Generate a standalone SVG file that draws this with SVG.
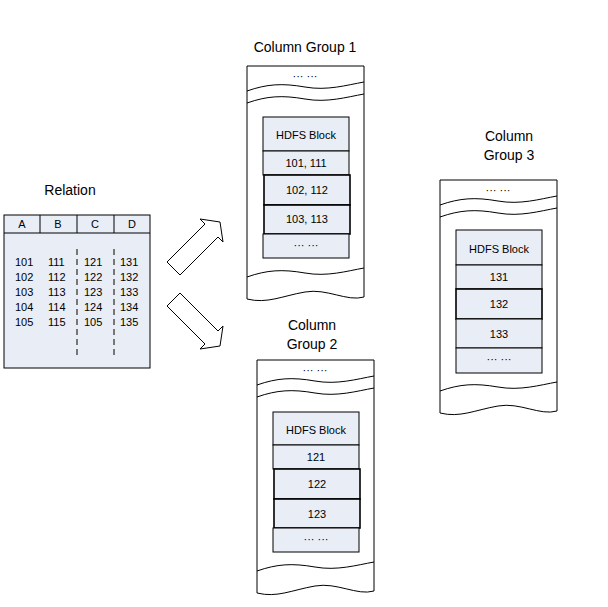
<svg xmlns="http://www.w3.org/2000/svg" width="608" height="607" viewBox="0 0 608 607">
<style>
text{font-family:"Liberation Sans",Arial,sans-serif;fill:#000}
.t{font-size:14px;text-anchor:middle}
.s{font-size:11px;text-anchor:middle}
.n{font-size:11px}
.o{fill:#fff;stroke:#000;stroke-width:1}
.w{fill:none;stroke:#000;stroke-width:1}
.b{fill:#e8edf6;stroke:#000;stroke-width:1}
.bb{fill:#e8edf6;stroke:#000;stroke-width:1.6}
</style>
<defs>
<g id="doc">
<path class="o" d="M0,0 H117 V231 C100,236 80,222 58,226 C35,230 20,238 0,233 Z"/>
<path class="w" d="M0,25 C20,18 35,17 58,21 C80,25 100,19 117,16"/>
<path class="w" d="M0,37 C20,30 35,29 58,33 C80,37 100,31 117,28"/>
<path class="w" d="M0,211 C20,204 35,203 58,207 C80,211 100,205 117,202"/>
<text class="s" x="58" y="14">··· ···</text>
</g>
</defs>
<g id="relation">
<text class="t" x="70" y="195">Relation</text>
<rect class="b" x="4" y="215" width="146" height="153"/>
<line class="w" x1="4" y1="233" x2="150" y2="233"/>
<line class="w" x1="40" y1="215" x2="40" y2="233"/>
<line class="w" x1="77" y1="215" x2="77" y2="233"/>
<line class="w" x1="114" y1="215" x2="114" y2="233"/>
<text class="s" x="22" y="228">A</text><text class="s" x="58" y="228">B</text><text class="s" x="95" y="228">C</text><text class="s" x="132" y="228">D</text>
<line x1="77" y1="249" x2="77" y2="356" stroke="#777" stroke-width="2" stroke-dasharray="6,4"/>
<line x1="114" y1="249" x2="114" y2="356" stroke="#777" stroke-width="2" stroke-dasharray="6,4"/>
<g class="n">
<text x="15" y="266">101</text><text x="48" y="266">111</text><text x="84" y="266">121</text><text x="120" y="266">131</text>
<text x="15" y="281">102</text><text x="48" y="281">112</text><text x="84" y="281">122</text><text x="120" y="281">132</text>
<text x="15" y="296">103</text><text x="48" y="296">113</text><text x="84" y="296">123</text><text x="120" y="296">133</text>
<text x="15" y="311">104</text><text x="48" y="311">114</text><text x="84" y="311">124</text><text x="120" y="311">134</text>
<text x="15" y="326">105</text><text x="48" y="326">115</text><text x="84" y="326">105</text><text x="120" y="326">135</text>
</g>
</g>
<g id="connectors">
<path class="o" d="M167,262 L205,224 L200,219 L220,222 L223,242 L218,237 L180,275 Z"/>
<path class="o" d="M167,306 L205,344 L200,349 L220,346 L223,326 L218,331 L180,293 Z"/>
</g>
<g id="group1">
<text class="t" x="305" y="52">Column Group 1</text>
<use href="#doc" x="247" y="66"/>
<rect class="b" x="263" y="117" width="86" height="34"/>
<text class="s" x="306" y="139">HDFS Block</text>
<rect class="b" x="263" y="151" width="86" height="24"/>
<text class="s" x="306" y="167">101, 111</text>
<rect class="bb" x="264" y="175" width="86" height="30"/>
<text class="s" x="307" y="194">102, 112</text>
<rect class="bb" x="264" y="205" width="86" height="29"/>
<text class="s" x="307" y="223">103, 113</text>
<rect class="b" x="263" y="234" width="86" height="24"/>
<text class="s" x="306" y="249">··· ···</text>
</g>
<g id="group3">
<text class="t" x="509" y="141">Column</text>
<text class="t" x="509" y="160">Group 3</text>
<use href="#doc" x="440" y="180"/>
<rect class="b" x="456" y="230" width="86" height="35"/>
<text class="s" x="499" y="253">HDFS Block</text>
<rect class="b" x="456" y="265" width="86" height="24"/>
<text class="s" x="499" y="281">131</text>
<rect class="bb" x="456" y="289" width="86" height="30"/>
<text class="s" x="499" y="308">132</text>
<rect class="b" x="456" y="319" width="86" height="29"/>
<text class="s" x="499" y="338">133</text>
<rect class="b" x="456" y="348" width="86" height="25"/>
<text class="s" x="499" y="363">··· ···</text>
</g>
<g id="group2">
<text class="t" x="312" y="330">Column</text>
<text class="t" x="312" y="349">Group 2</text>
<use href="#doc" x="257" y="360"/>
<rect class="b" x="273" y="412" width="86" height="33"/>
<text class="s" x="316" y="434">HDFS Block</text>
<rect class="b" x="273" y="445" width="86" height="24"/>
<text class="s" x="316" y="461">121</text>
<rect class="bb" x="274" y="469" width="86" height="30"/>
<text class="s" x="317" y="488">122</text>
<rect class="bb" x="274" y="499" width="86" height="29"/>
<text class="s" x="317" y="518">123</text>
<rect class="b" x="273" y="528" width="86" height="24"/>
<text class="s" x="316" y="543">··· ···</text>
</g>
</svg>
